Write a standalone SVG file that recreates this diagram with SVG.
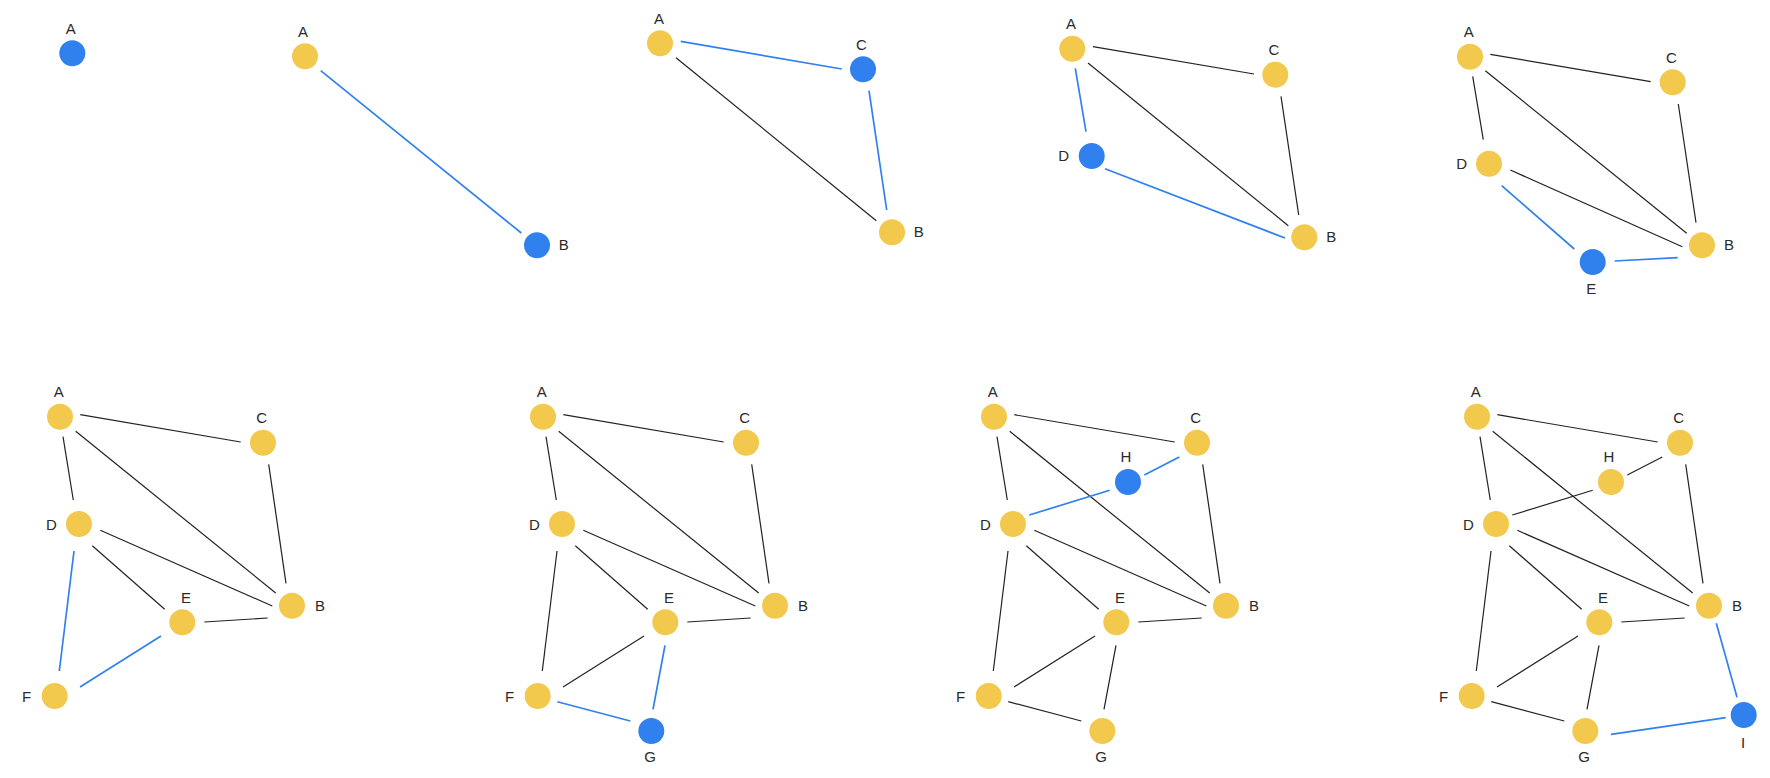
<svg xmlns="http://www.w3.org/2000/svg" width="1770" height="778" viewBox="0 0 1770 778">
<style>
.bg{fill:#ffffff}
.y{fill:#F2C94C}
.b{fill:#3081EE}
.k{stroke:#222222;stroke-width:1.2;fill:none}
.u{stroke:#3081EE;stroke-width:1.7;fill:none}
text{font-family:"Liberation Sans",Arial,sans-serif;font-size:15px;fill:#2a2a2a;text-anchor:middle}
</style>
<rect class="bg" x="0" y="0" width="1770" height="778"/>

<!-- Panel 1 -->
<g id="p1">
  <g id="p1-A"><circle class="b" cx="72.3" cy="53.3" r="13"/><text x="70.8" y="33.7">A</text></g>
</g>

<!-- Panel 2 -->
<g id="p2">
  <g id="p2-edges"><line class="u" x1="320.7" y1="70.7" x2="521.3" y2="233"/></g>
  <g id="p2-A"><circle class="y" cx="305" cy="56.3" r="13"/><text x="303" y="36.7">A</text></g>
  <g id="p2-B"><circle class="b" cx="537" cy="245.3" r="13"/><text x="563.7" y="250">B</text></g>
</g>

<!-- Panel 3 -->
<g id="p3">
  <g id="p3-edges">
    <line class="u" x1="680.7" y1="41.3" x2="841.7" y2="69"/>
    <line class="k" x1="676" y1="57.7" x2="876.3" y2="220.7"/>
    <line class="u" x1="869" y1="90.7" x2="886.7" y2="210"/>
  </g>
  <g id="p3-A"><circle class="y" cx="660" cy="43.3" r="13"/><text x="659" y="24">A</text></g>
  <g id="p3-C"><circle class="b" cx="863" cy="69.3" r="13"/><text x="861.3" y="50">C</text></g>
  <g id="p3-B"><circle class="y" cx="892" cy="232.3" r="13"/><text x="918.7" y="237.3">B</text></g>
</g>

<!-- Panel 4 -->
<g id="p4">
  <g id="p4-edges">
    <line class="u" x1="1075.3" y1="68.3" x2="1086" y2="131.7"/>
    <line class="k" x1="1093" y1="46.7" x2="1254" y2="74"/>
    <line class="k" x1="1088" y1="63" x2="1288.3" y2="225.7"/>
    <line class="k" x1="1281" y1="96.3" x2="1298.7" y2="215"/>
    <line class="u" x1="1105" y1="168.7" x2="1285" y2="238"/>
  </g>
  <g id="p4-A"><circle class="y" cx="1072.3" cy="48.7" r="13"/><text x="1071" y="29.3">A</text></g>
  <g id="p4-C"><circle class="y" cx="1275.3" cy="74.7" r="13"/><text x="1274" y="55">C</text></g>
  <g id="p4-D"><circle class="b" cx="1091.7" cy="156" r="13"/><text x="1063.7" y="161">D</text></g>
  <g id="p4-B"><circle class="y" cx="1304.3" cy="237.3" r="13"/><text x="1331.3" y="242.3">B</text></g>
</g>

<!-- Panel 5 -->
<g id="p5">
  <g id="p5-edges">
    <line class="k" x1="1490.3" y1="54.3" x2="1650.7" y2="81.7"/>
    <line class="k" x1="1472.7" y1="76.3" x2="1483.3" y2="139.7"/>
    <line class="k" x1="1485.3" y1="70.7" x2="1686.7" y2="233.3"/>
    <line class="k" x1="1678.3" y1="104" x2="1696" y2="222.7"/>
    <line class="k" x1="1510.3" y1="170" x2="1682.3" y2="246.7"/>
    <line class="u" x1="1501.7" y1="185.7" x2="1574.3" y2="249"/>
    <line class="u" x1="1614.7" y1="261" x2="1677.7" y2="257.7"/>
  </g>
  <g id="p5-A"><circle class="y" cx="1470" cy="56.7" r="13"/><text x="1468.7" y="36.7">A</text></g>
  <g id="p5-C"><circle class="y" cx="1672.7" cy="82.3" r="13"/><text x="1671.3" y="62.7">C</text></g>
  <g id="p5-D"><circle class="y" cx="1489" cy="163.7" r="13"/><text x="1461.7" y="169.3">D</text></g>
  <g id="p5-B"><circle class="y" cx="1702" cy="245.3" r="13"/><text x="1729" y="250">B</text></g>
  <g id="p5-E"><circle class="b" cx="1592.7" cy="262" r="13"/><text x="1591.3" y="294.3">E</text></g>
</g>

<!-- Panel 6 -->
<g id="p6">
  <g id="p6-edges">
    <line class="k" x1="80.3" y1="414.7" x2="240.7" y2="442"/>
    <line class="k" x1="63" y1="436.7" x2="73.3" y2="500"/>
    <line class="k" x1="75.7" y1="431.3" x2="275.7" y2="593"/>
    <line class="k" x1="268.7" y1="464.3" x2="286" y2="583.3"/>
    <line class="k" x1="100.3" y1="530.3" x2="272.3" y2="606"/>
    <line class="k" x1="92.3" y1="545.7" x2="164.7" y2="609.3"/>
    <line class="k" x1="204.3" y1="622" x2="267.7" y2="618"/>
    <line class="u" x1="74" y1="551" x2="59.3" y2="671"/>
    <line class="u" x1="161" y1="636" x2="80" y2="687"/>
  </g>
  <g id="p6-A"><circle class="y" cx="60" cy="416.7" r="13"/><text x="58.7" y="396.7">A</text></g>
  <g id="p6-C"><circle class="y" cx="263" cy="442.7" r="13"/><text x="261.7" y="422.7">C</text></g>
  <g id="p6-D"><circle class="y" cx="79" cy="524" r="13"/><text x="51.3" y="530">D</text></g>
  <g id="p6-B"><circle class="y" cx="292" cy="605.7" r="13"/><text x="320" y="610.7">B</text></g>
  <g id="p6-E"><circle class="y" cx="182.3" cy="622.3" r="13"/><text x="186" y="602.7">E</text></g>
  <g id="p6-F"><circle class="y" cx="54.7" cy="696" r="13"/><text x="26.7" y="702.3">F</text></g>
</g>

<!-- Panel 7 -->
<g id="p7" transform="translate(483,0)">
  <g id="p7-edges">
    <line class="k" x1="80.3" y1="414.7" x2="240.7" y2="442"/>
    <line class="k" x1="63" y1="436.7" x2="73.3" y2="500"/>
    <line class="k" x1="75.7" y1="431.3" x2="275.7" y2="593"/>
    <line class="k" x1="268.7" y1="464.3" x2="286" y2="583.3"/>
    <line class="k" x1="100.3" y1="530.3" x2="272.3" y2="606"/>
    <line class="k" x1="92.3" y1="545.7" x2="164.7" y2="609.3"/>
    <line class="k" x1="204.3" y1="622" x2="267.7" y2="618"/>
    <line class="k" x1="74" y1="551" x2="59.3" y2="671"/>
    <line class="k" x1="161" y1="636" x2="80" y2="687"/>
    <line class="u" x1="74.3" y1="701.7" x2="147.3" y2="721"/>
    <line class="u" x1="182" y1="645.3" x2="170" y2="709.3"/>
  </g>
  <g id="p7-A"><circle class="y" cx="60" cy="416.7" r="13"/><text x="58.7" y="396.7">A</text></g>
  <g id="p7-C"><circle class="y" cx="263" cy="442.7" r="13"/><text x="261.7" y="422.7">C</text></g>
  <g id="p7-D"><circle class="y" cx="79" cy="524" r="13"/><text x="51.3" y="530">D</text></g>
  <g id="p7-B"><circle class="y" cx="292" cy="605.7" r="13"/><text x="320" y="610.7">B</text></g>
  <g id="p7-E"><circle class="y" cx="182.3" cy="622.3" r="13"/><text x="186" y="602.7">E</text></g>
  <g id="p7-F"><circle class="y" cx="54.7" cy="696" r="13"/><text x="26.7" y="702.3">F</text></g>
  <g id="p7-G"><circle class="b" cx="168.3" cy="731" r="13"/><text x="167" y="761.7">G</text></g>
</g>

<!-- Panel 8 -->
<g id="p8" transform="translate(934,0)">
  <g id="p8-edges">
    <line class="k" x1="80.3" y1="414.7" x2="240.7" y2="442"/>
    <line class="k" x1="63" y1="436.7" x2="73.3" y2="500"/>
    <line class="k" x1="75.7" y1="431.3" x2="275.7" y2="593"/>
    <line class="k" x1="268.7" y1="464.3" x2="286" y2="583.3"/>
    <line class="k" x1="100.3" y1="530.3" x2="272.3" y2="606"/>
    <line class="k" x1="92.3" y1="545.7" x2="164.7" y2="609.3"/>
    <line class="k" x1="204.3" y1="622" x2="267.7" y2="618"/>
    <line class="k" x1="74" y1="551" x2="59.3" y2="671"/>
    <line class="k" x1="161" y1="636" x2="80" y2="687"/>
    <line class="k" x1="74.3" y1="701.7" x2="147.3" y2="721"/>
    <line class="k" x1="182" y1="645.3" x2="170" y2="709.3"/>
    <line class="u" x1="245.3" y1="457" x2="210.3" y2="475"/>
    <line class="u" x1="175.7" y1="490.3" x2="95.3" y2="515"/>
  </g>
  <g id="p8-A"><circle class="y" cx="60" cy="416.7" r="13"/><text x="58.7" y="396.7">A</text></g>
  <g id="p8-C"><circle class="y" cx="263" cy="442.7" r="13"/><text x="261.7" y="422.7">C</text></g>
  <g id="p8-H"><circle class="b" cx="194" cy="482" r="13"/><text x="192" y="462">H</text></g>
  <g id="p8-D"><circle class="y" cx="79" cy="524" r="13"/><text x="51.3" y="530">D</text></g>
  <g id="p8-B"><circle class="y" cx="292" cy="605.7" r="13"/><text x="320" y="610.7">B</text></g>
  <g id="p8-E"><circle class="y" cx="182.3" cy="622.3" r="13"/><text x="186" y="602.7">E</text></g>
  <g id="p8-F"><circle class="y" cx="54.7" cy="696" r="13"/><text x="26.7" y="702.3">F</text></g>
  <g id="p8-G"><circle class="y" cx="168.3" cy="731" r="13"/><text x="167" y="761.7">G</text></g>
</g>

<!-- Panel 9 -->
<g id="p9" transform="translate(1417,0)">
  <g id="p9-edges">
    <line class="k" x1="80.3" y1="414.7" x2="240.7" y2="442"/>
    <line class="k" x1="63" y1="436.7" x2="73.3" y2="500"/>
    <line class="k" x1="75.7" y1="431.3" x2="275.7" y2="593"/>
    <line class="k" x1="268.7" y1="464.3" x2="286" y2="583.3"/>
    <line class="k" x1="100.3" y1="530.3" x2="272.3" y2="606"/>
    <line class="k" x1="92.3" y1="545.7" x2="164.7" y2="609.3"/>
    <line class="k" x1="204.3" y1="622" x2="267.7" y2="618"/>
    <line class="k" x1="74" y1="551" x2="59.3" y2="671"/>
    <line class="k" x1="161" y1="636" x2="80" y2="687"/>
    <line class="k" x1="74.3" y1="701.7" x2="147.3" y2="721"/>
    <line class="k" x1="182" y1="645.3" x2="170" y2="709.3"/>
    <line class="k" x1="245.3" y1="457" x2="210.3" y2="475"/>
    <line class="k" x1="175.7" y1="490.3" x2="95.3" y2="515"/>
    <line class="u" x1="299.3" y1="623.3" x2="320" y2="697.3"/>
    <line class="u" x1="194" y1="734.3" x2="308.7" y2="717.7"/>
  </g>
  <g id="p9-A"><circle class="y" cx="60" cy="416.7" r="13"/><text x="58.7" y="396.7">A</text></g>
  <g id="p9-C"><circle class="y" cx="263" cy="442.7" r="13"/><text x="261.7" y="422.7">C</text></g>
  <g id="p9-H"><circle class="y" cx="194" cy="482" r="13"/><text x="192" y="462">H</text></g>
  <g id="p9-D"><circle class="y" cx="79" cy="524" r="13"/><text x="51.3" y="530">D</text></g>
  <g id="p9-B"><circle class="y" cx="292" cy="605.7" r="13"/><text x="320" y="610.7">B</text></g>
  <g id="p9-E"><circle class="y" cx="182.3" cy="622.3" r="13"/><text x="186" y="602.7">E</text></g>
  <g id="p9-F"><circle class="y" cx="54.7" cy="696" r="13"/><text x="26.7" y="702.3">F</text></g>
  <g id="p9-G"><circle class="y" cx="168.3" cy="731" r="13"/><text x="167" y="761.7">G</text></g>
  <g id="p9-I"><circle class="b" cx="326.7" cy="715" r="13"/><text x="326" y="747.7">I</text></g>
</g>
</svg>
